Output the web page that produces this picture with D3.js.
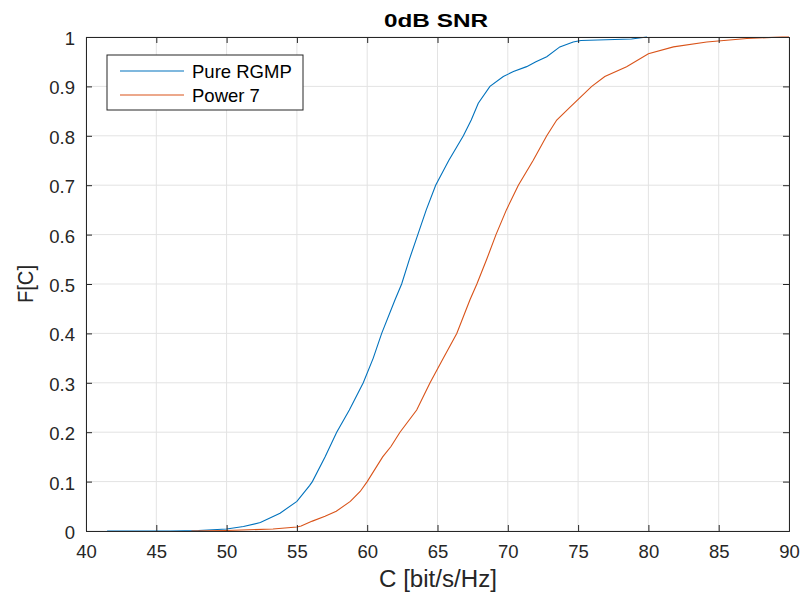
<!DOCTYPE html>
<html><head><meta charset="utf-8">
<script src="https://cdn.jsdelivr.net/npm/d3@7"></script>
<style>body{margin:0;background:#fff}svg{display:block}text{font-family:"Liberation Sans",Arial,Helvetica,sans-serif}</style>
</head><body><svg id="c" width="803" height="596"></svg>
<script>
const xTicks = [40,45,50,55,60,65,70,75,80,85,90];
const yTicks = [0,0.1,0.2,0.3,0.4,0.5,0.6,0.7,0.8,0.9,1];
const seriesNames = ["Pure RGMP","Power 7"];
const rgmpC = [41.5,46,48,50,51.2,52.4,53.8,55,55.9,56.1,57,57.83,58.73,59.72,60.43,61.03,61.98,62.45,63.0,63.6,64.2,64.87,65.8,66.84,67.4,67.9,68.73,69.68,70.4,71.34,72.0,72.77,73.7,74.65,75.2,78.8,79.9];
const rgmpF = [0,0,0.001,0.004,0.009,0.017,0.036,0.06,0.092,0.1,0.15,0.2,0.245,0.3,0.35,0.4,0.468,0.5,0.55,0.6,0.65,0.7,0.75,0.8,0.832,0.866,0.9,0.92,0.93,0.94,0.95,0.96,0.98,0.99,0.993,0.996,1.0];
const powC = [47.5,50,53.3,55,55.3,56.1,57,57.8,58.8,59.5,60,61.1,61.69,62.33,63.52,64.47,65.42,66.37,67.31,67.8,68.5,69.16,69.9,70.75,71.8,72.77,73.48,74.43,75.97,76.9,78.45,80,81.78,84.15,87,89.5,90];
const powF = [0,0.001,0.004,0.008,0.01,0.02,0.03,0.04,0.06,0.08,0.1,0.15,0.171,0.2,0.245,0.3,0.35,0.4,0.468,0.5,0.55,0.6,0.65,0.7,0.75,0.8,0.832,0.858,0.9,0.92,0.94,0.966,0.98,0.99,0.997,1.0,1.0];
const colors = ["#0072BD","#D95319"];

const svg = d3.select("#c");
const L=86,R=789,T=37,B=531;
const x = d3.scaleLinear().domain([40,90]).range([L,R]);
const y = d3.scaleLinear().domain([0,1]).range([B,T]);
const axisCol="#262626", gridCol="#e3e3e3";

const g = svg.append("g");
g.selectAll(".gx").data(xTicks).enter().append("line")
 .attr("x1",d=>x(d)).attr("x2",d=>x(d)).attr("y1",T).attr("y2",B)
 .attr("stroke",gridCol).attr("stroke-width",1);
g.selectAll(".gy").data(yTicks).enter().append("line")
 .attr("x1",L).attr("x2",R).attr("y1",d=>y(d)).attr("y2",d=>y(d))
 .attr("stroke",gridCol).attr("stroke-width",1);

const series=[rgmpC.map((c,i)=>[c,rgmpF[i]]), powC.map((c,i)=>[c,powF[i]])];
const line = d3.line().x(d=>x(d[0])).y(d=>y(d[1]));
series.forEach((s,i)=>{
  g.append("path").datum(s).attr("d",line).attr("fill","none")
   .attr("stroke",colors[i]).attr("stroke-width",1.1);
});

const tl=6;
const ax = d3.axisBottom(x).tickValues(xTicks).tickSize(-tl).tickPadding(12).tickFormat(d3.format("d"));
const axT = d3.axisTop(x).tickValues(xTicks).tickSize(-tl).tickFormat("");
const ay = d3.axisLeft(y).tickValues(yTicks).tickSize(-tl).tickPadding(11).tickFormat(d=>d===0||d===1?String(d):d3.format(".1f")(d));
const ayR = d3.axisRight(y).tickValues(yTicks).tickSize(-tl).tickFormat("");
function style(sel){
  sel.select(".domain").attr("stroke",axisCol);
  sel.selectAll(".tick line").attr("stroke",axisCol);
  sel.selectAll("text").attr("fill","#262626").style("font-size","18.5px").style("font-family",'"Liberation Sans",Arial,sans-serif');
}
const gx = svg.append("g").attr("transform",`translate(0,${B})`).call(ax); style(gx);
gx.selectAll(".tick text").attr("dy",null).attr("y",27);
style(svg.append("g").attr("transform",`translate(0,${T})`).call(axT));
const gy = svg.append("g").attr("transform",`translate(${L},0)`).call(ay); style(gy);
gy.selectAll(".tick text").attr("dy","0.4em");
style(svg.append("g").attr("transform",`translate(${R},0)`).call(ayR));

svg.append("text").attr("x",436).attr("y",27).attr("text-anchor","middle")
 .style("font-size","19px").style("font-weight","bold").attr("fill","#000")
 .attr("textLength",104).attr("lengthAdjust","spacingAndGlyphs").text("0dB SNR");
svg.append("text").attr("x",438).attr("y",587).attr("text-anchor","middle")
 .style("font-size","23px").attr("fill","#262626")
 .attr("textLength",118).attr("lengthAdjust","spacingAndGlyphs").text("C [bit/s/Hz]");
svg.append("text").attr("transform",`translate(33,284) rotate(-90)`).attr("text-anchor","middle")
 .style("font-size","22px").attr("fill","#262626")
 .attr("textLength",38).attr("lengthAdjust","spacingAndGlyphs").text("F[C]");

const lg = svg.append("g");
lg.append("rect").attr("x",107).attr("y",55).attr("width",196).attr("height",55)
 .attr("fill","#fff").attr("stroke",axisCol).attr("stroke-width",1);
seriesNames.forEach((n,i)=>{
  const yy=71+i*24;
  lg.append("line").attr("x1",120).attr("x2",184).attr("y1",yy).attr("y2",yy).attr("stroke",colors[i]).attr("stroke-width",1.1);
  lg.append("text").attr("x",192).attr("y",yy+7).style("font-size","18.5px").attr("fill","#000").text(n);
});
</script></body></html>
